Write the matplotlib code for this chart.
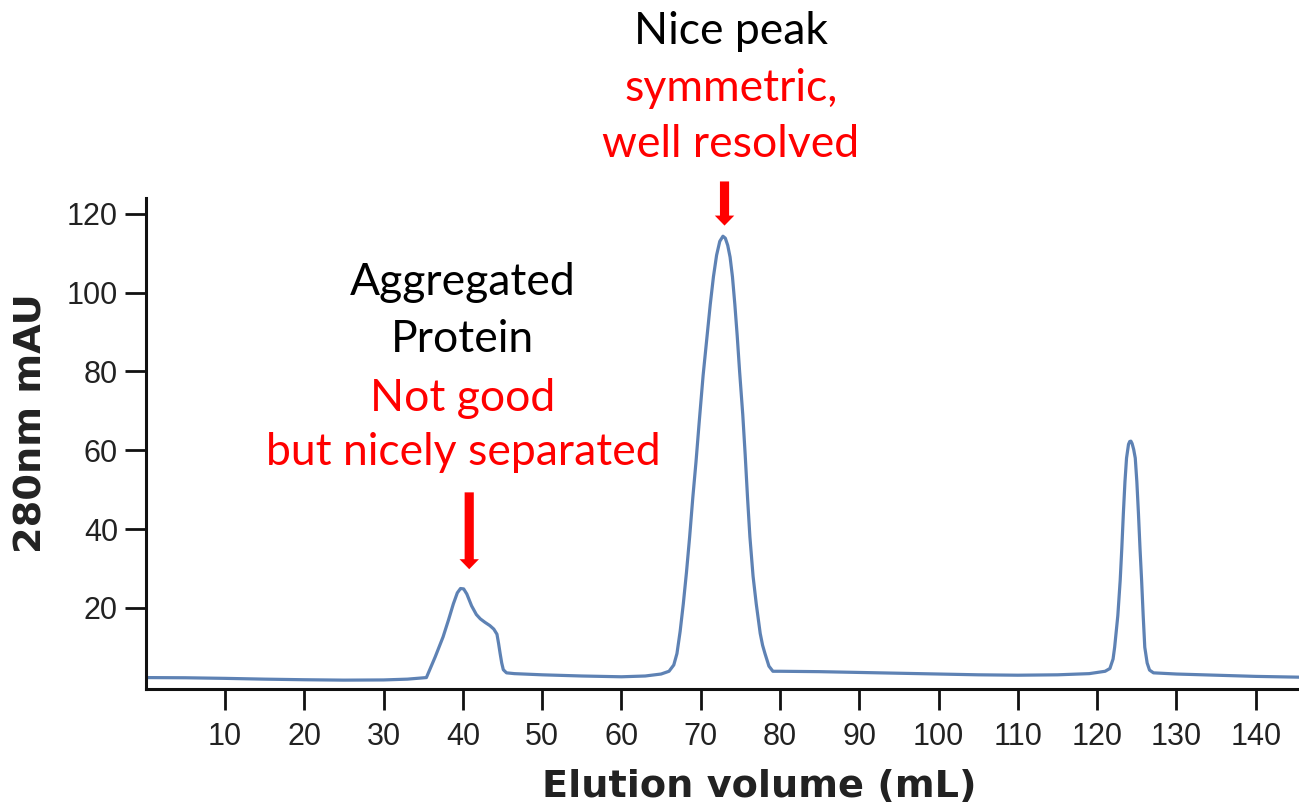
import numpy as np
import matplotlib.pyplot as plt

# Size-exclusion trace: elution volume (mL) vs absorbance at 280 nm (mAU)
volume = [0, 5, 10, 15, 20, 25, 30, 33, 35.4,
          36.5, 37.5, 38.2, 38.8, 39.3, 39.7, 40.1, 40.5, 41.1, 41.7, 42.2,
          42.8, 43.4, 43.9, 44.3, 44.5, 44.7, 44.9, 45.1, 45.5, 46.5,
          50, 55, 60, 63, 65, 66,
          66.6, 67.0, 67.4, 67.8, 68.2, 68.6, 69.0, 69.4, 69.8, 70.3, 70.8,
          71.2, 71.6, 72.0, 72.4, 72.8, 73.1, 73.4, 73.7, 74.0, 74.3, 74.6,
          74.9, 75.3, 75.6, 75.9, 76.2, 76.6, 77.0, 77.5, 77.8, 78.1, 78.6,
          79.1, 80,
          85, 90, 95, 100, 105, 110, 115, 119, 121,
          121.6, 122.0, 122.2, 122.6, 122.9, 123.1, 123.3, 123.5, 123.7,
          123.95, 124.1, 124.25, 124.4, 124.6, 124.8, 125.0, 125.2, 125.4,
          125.6, 125.8, 126.0, 126.3, 126.6, 127.1,
          130, 135, 140, 145.5]
absorbance = [2.3, 2.25, 2.1, 1.9, 1.75, 1.65, 1.7, 1.9, 2.3,
              7.5, 12.6, 17, 21, 23.8, 24.9, 24.8, 23.5, 20.5, 18.3, 17.2,
              16.3, 15.5, 14.6, 13.3, 11, 8.4, 6, 4.3, 3.5, 3.3,
              3.0, 2.7, 2.5, 2.7, 3.2, 3.9,
              5.5, 8.4, 14, 21, 29, 38, 48, 57, 67, 79, 89,
              97, 104, 109.5, 113, 114.3, 113.8, 112, 109, 104, 97, 89,
              80, 69, 59, 48, 38, 28, 21, 13.5, 10.5, 8.4, 5.2,
              3.9, 3.9,
              3.8, 3.6, 3.4, 3.2, 3.0, 2.9, 3.0, 3.3, 3.9,
              4.6, 7, 10, 18, 27, 35, 44, 52, 58,
              61.5, 62.2, 62.3, 61.7, 60.2, 58, 52, 44, 35,
              27, 18, 10, 6, 4.2, 3.5,
              3.2, 2.9, 2.6, 2.4]

x_ticks = [10, 20, 30, 40, 50, 60, 70, 80, 90, 100, 110, 120, 130, 140]
y_ticks = [20, 40, 60, 80, 100, 120]

# peak annotations: arrow x positions
aggregate_x = 40.8
main_peak_x = 73.0

fig = plt.figure(figsize=(12.99, 8.08), dpi=100)
ax = fig.add_axes([145.7 / 1299, 1 - 689 / 808, 1153.3 / 1299, 491 / 808])

ax.plot(volume, absorbance, color='#5e82b4', lw=2.3,
        solid_joinstyle='round', solid_capstyle='round')

ax.set_xlim(0, 145.45)
ax.set_ylim(-0.6, 124)
ax.set_xticks(x_ticks)
ax.set_yticks(y_ticks)

for side in ['top', 'right']:
    ax.spines[side].set_visible(False)
for side in ['left', 'bottom']:
    ax.spines[side].set_linewidth(2.2)
    ax.spines[side].set_color('#111111')

ax.tick_params(axis='x', length=15, width=2, pad=9, labelsize=22,
               colors='#111111', labelcolor='#222222')
ax.tick_params(axis='y', length=15, width=2, pad=5, labelsize=22,
               colors='#111111', labelcolor='#222222')
for lab in ax.get_xticklabels() + ax.get_yticklabels():
    lab.set_family('Liberation Sans')

ax.set_xlabel('Elution volume (mL)', fontsize=27.5, fontweight='bold',
              family='DejaVu Sans', color='#222222')
ax.xaxis.set_label_coords(0.532, -0.22)
ax.xaxis.label.set_va('baseline')
ax.set_ylabel('280nm mAU', fontsize=27.5, fontweight='bold',
              family='DejaVu Sans', color='#222222')
ax.yaxis.set_label_coords(-0.083, 0.542)

# arrows pointing at the peaks
arrow_style = 'simple,head_length=0.36,head_width=0.7,tail_width=0.33'
ax.annotate('', xy=(aggregate_x, 29.8), xytext=(aggregate_x, 49.3),
            arrowprops=dict(arrowstyle=arrow_style, color='red', lw=0,
                            mutation_scale=20, shrinkA=0, shrinkB=0))
ax.annotate('', xy=(main_peak_x, 117), xytext=(main_peak_x, 128.2),
            arrowprops=dict(arrowstyle=arrow_style, color='red', lw=0,
                            mutation_scale=20, shrinkA=0, shrinkB=0),
            annotation_clip=False)

txt = dict(fontsize=32, family='Lato', ha='center', va='baseline')
ax.text(40.0, 99.3, 'Aggregated', color='black', **txt)
ax.text(40.0, 84.9, 'Protein', color='black', **txt)
ax.text(40.0, 70.0, 'Not good', color='red', **txt)
ax.text(40.0, 56.2, 'but nicely separated', color='red', **txt)
ax.text(73.8, 163.2, 'Nice peak', color='black', **txt)
ax.text(73.8, 148.7, 'symmetric,', color='red', **txt)
ax.text(73.8, 134.3, 'well resolved', color='red', **txt)

fig.savefig('out.png', dpi=100)
